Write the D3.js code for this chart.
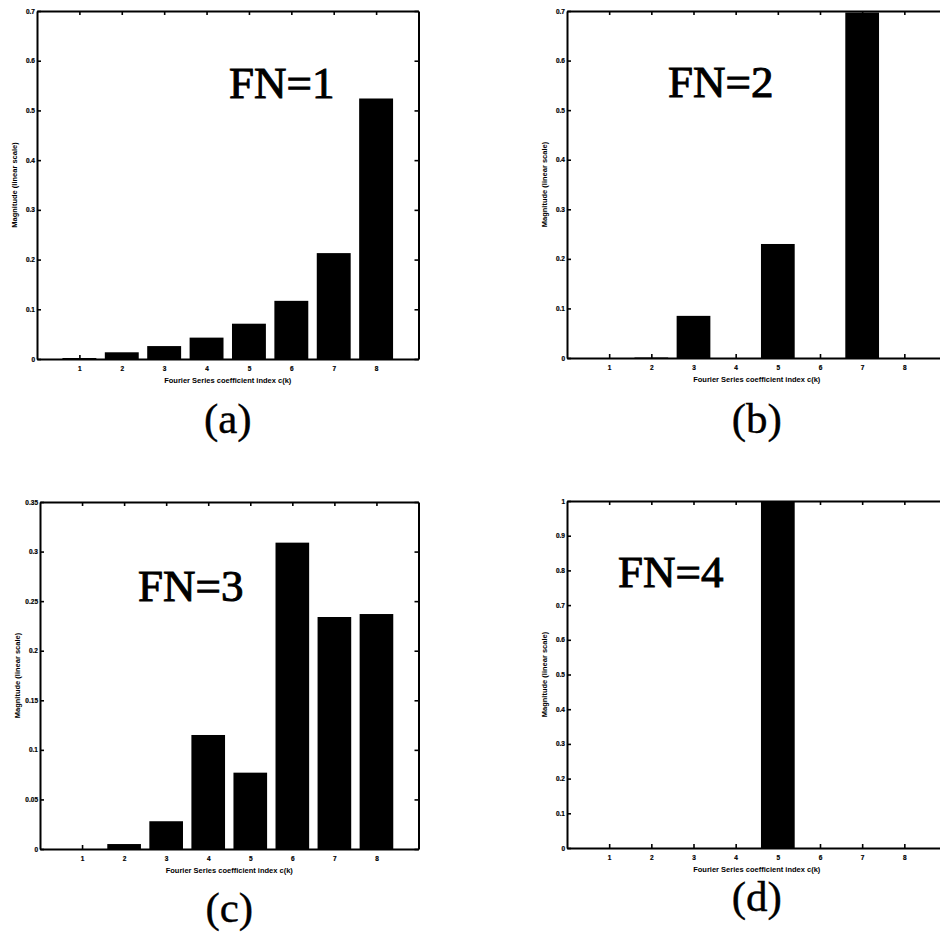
<!DOCTYPE html>
<html>
<head>
<meta charset="utf-8">
<script src="https://cdn.jsdelivr.net/npm/d3@7"></script>
<style>
  body { margin: 0; background: #fff; }
  svg { display: block; }
  .tick text { font-family: "Liberation Sans", Arial, sans-serif; font-weight: bold; font-size: 6.5px; }
</style>
</head>
<body>
<script>
// data
const coeffIndex = [1, 2, 3, 4, 5, 6, 7, 8]
const magFN1 = [0.002, 0.0135, 0.026, 0.043, 0.071, 0.117, 0.213, 0.524]
const magFN2 = [0, 0.001, 0.085, 0, 0.23, 0, 0.697, 0]
const magFN3 = [0, 0.005, 0.028, 0.115, 0.077, 0.309, 0.234, 0.237]
const magFN4 = [0, 0, 0, 0, 1, 0, 0, 0]

const yTicksFN1 = [0, 0.1, 0.2, 0.3, 0.4, 0.5, 0.6, 0.7]
const yTicksFN2 = [0, 0.1, 0.2, 0.3, 0.4, 0.5, 0.6, 0.7]
const yTicksFN3 = [0, 0.05, 0.1, 0.15, 0.2, 0.25, 0.3, 0.35]
const yTicksFN4 = [0, 0.1, 0.2, 0.3, 0.4, 0.5, 0.6, 0.7, 0.8, 0.9, 1]

const fnLabels = ['FN=1', 'FN=2', 'FN=3', 'FN=4']
const captions = ['(a)', '(b)', '(c)', '(d)']

const xTitle = 'Fourier Series coefficient index c(k)'
const yTitle = 'Magnitude (linear scale)'

// layout of the four panels (pixels)
const panels = [
  { values: magFN1, ticks: yTicksFN1, left: 37, right: 418.5, top: 11, bottom: 359, lx: 229, ly: 98, cy: 433 },
  { values: magFN2, ticks: yTicksFN2, left: 567, right: 946.5, top: 11, bottom: 358, lx: 668, ly: 97, cy: 433 },
  { values: magFN3, ticks: yTicksFN3, left: 40, right: 418.5, top: 502, bottom: 849, lx: 138, ly: 601, cy: 922 },
  { values: magFN4, ticks: yTicksFN4, left: 567, right: 946.5, top: 501, bottom: 848, lx: 618, ly: 587, cy: 911 }
]

const width = 940
const height = 934

const svg = d3.select('body')
    .append('svg')
    .attr('width', width)
    .attr('height', height)

panels.forEach((p, i) => {
    const g = svg.append('g')

    const xScale = d3.scaleLinear()
                    .domain([0, 9])
                    .range([p.left, p.right])

    const yScale = d3.scaleLinear()
                    .domain([0, d3.max(p.ticks)])
                    .range([p.bottom, p.top])

    // bars
    g.selectAll('rect.bar')
        .data(p.values)
        .join('rect')
        .attr('class', 'bar')
        .attr('x', (d, j) => xScale(coeffIndex[j] - 0.4))
        .attr('width', (d, j) => xScale(coeffIndex[j] + 0.4) - xScale(coeffIndex[j] - 0.4))
        .attr('y', d => yScale(d))
        .attr('height', d => yScale(0) - yScale(d))
        .attr('fill', '#000')

    const fmt = d => d === 0 ? '0' : String(d)

    const xAxis = d3.axisBottom(xScale)
                    .tickValues(coeffIndex)
                    .tickSizeInner(-4)
                    .tickSizeOuter(0)
                    .tickPadding(7)
    const xTop = d3.axisTop(xScale)
                    .tickValues(coeffIndex)
                    .tickSizeInner(-4)
                    .tickSizeOuter(0)
                    .tickFormat('')
    const yAxis = d3.axisLeft(yScale)
                    .tickValues(p.ticks)
                    .tickSizeInner(-4)
                    .tickSizeOuter(0)
                    .tickPadding(2)
                    .tickFormat(fmt)
    const yRight = d3.axisRight(yScale)
                    .tickValues(p.ticks)
                    .tickSizeInner(-4)
                    .tickSizeOuter(0)
                    .tickFormat('')

    const axes = [
        g.append('g').attr('transform', `translate(0, ${p.bottom})`).call(xAxis),
        g.append('g').attr('transform', `translate(0, ${p.top})`).call(xTop),
        g.append('g').attr('transform', `translate(${p.left}, 0)`).call(yAxis),
        g.append('g').attr('transform', `translate(${p.right}, 0)`).call(yRight)
    ]
    axes.forEach(a => {
        a.select('.domain').attr('stroke', '#000').attr('stroke-width', 2)
        a.selectAll('.tick line').attr('stroke', '#000').attr('stroke-width', 1.6)
        a.selectAll('.tick text').attr('fill', '#000').attr('stroke', '#000').attr('stroke-width', 0.2)
    })

    // axis titles
    const cx = (p.left + p.right) / 2
    g.append('text')
        .attr('x', cx)
        .attr('y', p.bottom + 24)
        .attr('text-anchor', 'middle')
        .style('font-family', '"Liberation Sans", Arial, sans-serif')
        .style('font-weight', 'bold')
        .style('font-size', '7.5px')
        .text(xTitle)

    g.append('text')
        .attr('transform', `translate(${p.left - 20}, ${(p.top + p.bottom) / 2}) rotate(-90)`)
        .attr('text-anchor', 'middle')
        .style('font-family', '"Liberation Sans", Arial, sans-serif')
        .style('font-weight', 'bold')
        .style('font-size', '7.5px')
        .text(yTitle)

    // FN annotation
    g.append('text')
        .attr('x', p.lx)
        .attr('y', p.ly)
        .style('font-family', '"Liberation Serif", "Times New Roman", serif')
        .style('font-size', '45px')
        .attr('stroke', '#000')
        .attr('stroke-width', 1)
        .text(fnLabels[i])

    // caption
    g.append('text')
        .attr('x', cx)
        .attr('y', p.cy)
        .attr('text-anchor', 'middle')
        .style('font-family', '"Liberation Serif", "Times New Roman", serif')
        .style('font-size', '43px')
        .attr('stroke', '#000')
        .attr('stroke-width', 0.4)
        .text(captions[i])
})
</script>
</body>
</html>
